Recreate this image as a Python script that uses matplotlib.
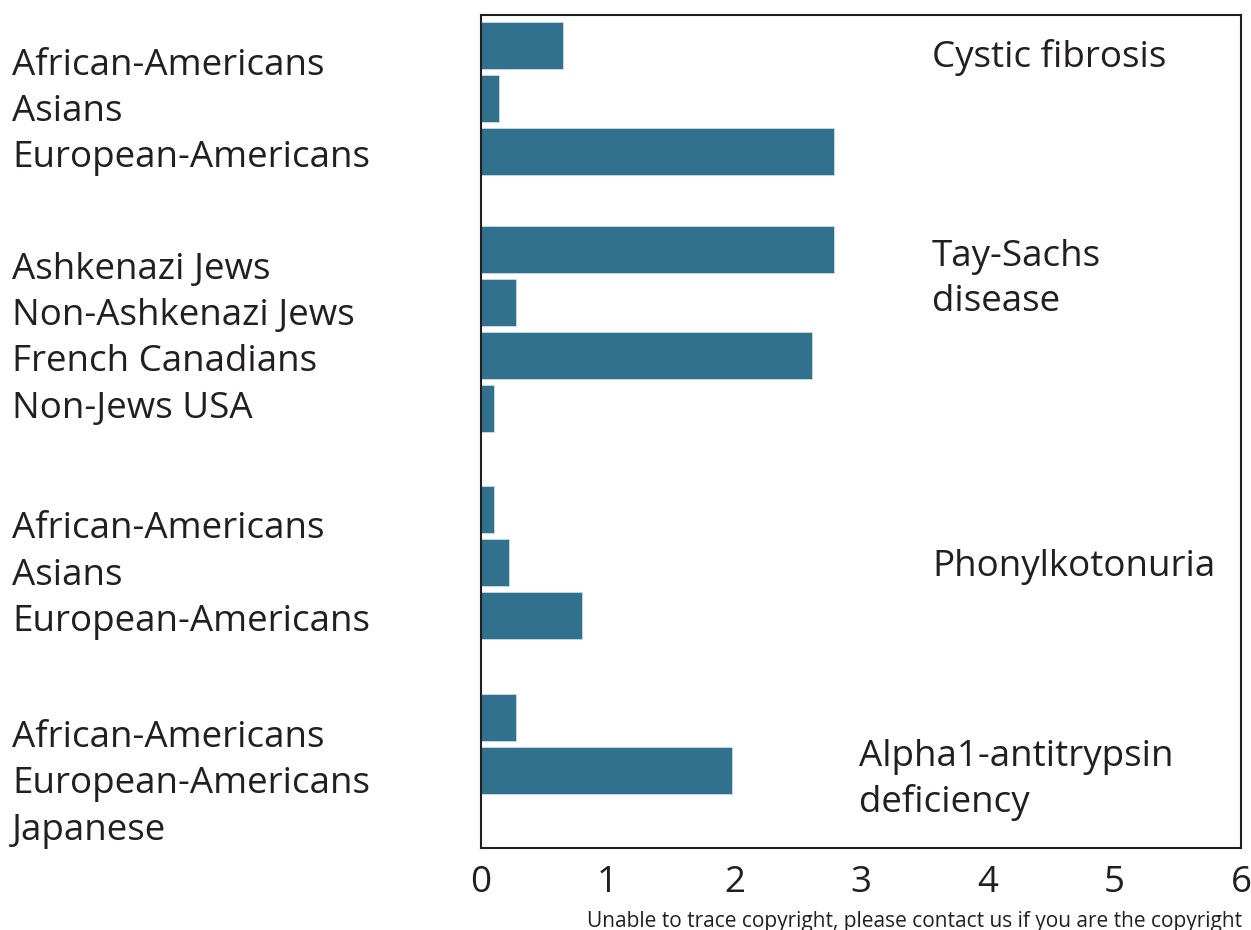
import matplotlib.pyplot as plt
import matplotlib.transforms as mtransforms
import numpy as np

plt.rcParams['font.family'] = ['Open Sans', 'DejaVu Sans']

# disease groups, populations and carrier frequencies (%)
diseases = ['Cystic fibrosis', 'Tay-Sachs\ndisease', 'Phonylkotonuria',
            'Alpha1-antitrypsin\ndeficiency']
populations = [
    ['African-Americans', 'Asians', 'European-Americans'],
    ['Ashkenazi Jews', 'Non-Ashkenazi Jews', 'French Canadians', 'Non-Jews USA'],
    ['African-Americans', 'Asians', 'European-Americans'],
    ['African-Americans', 'European-Americans', 'Japanese'],
]
values = [
    [0.65, 0.14, 2.79],
    [2.79, 0.28, 2.61, 0.10],
    [0.10, 0.22, 0.80],
    [0.28, 1.98, 0.0],
]
xticks = [0, 1, 2, 3, 4, 5, 6]

bar_color = '#31718d'
text_color = '#231f20'

# layout: where each group starts on the y axis
group_start = [0, 3.85, 8.75, 12.68]
disease_y = [0.22, 4.42, 9.84, 13.86]
disease_x = [0.745, 0.745, 0.745, 0.687]

fig = plt.figure(figsize=(12.51, 9.30), dpi=100)
ax = fig.add_axes([0.3845, 0.088, 0.6075, 0.896])
trans = mtransforms.blended_transform_factory(fig.transFigure, ax.transData)

for g in range(len(values)):
    ys = group_start[g] + np.arange(len(values[g]))
    ax.barh(ys, values[g], height=0.89, color=bar_color,
            edgecolor='#c9dbe3', linewidth=0.6)
    # population names sit in a column left of the frame
    for i, name in enumerate(populations[g]):
        ax.text(0.0096, group_start[g] + 0.38 + 0.875 * i, name, transform=trans,
                fontsize=26.5, color=text_color, va='center', ha='left')
    ax.text(disease_x[g], disease_y[g], diseases[g], transform=trans,
            fontsize=26.5, color=text_color, va='center', ha='left', linespacing=1.32)

ax.set_xlim(0, 6)
ax.set_ylim(15.14, -0.575)
ax.set_xticks(xticks)
ax.set_xticklabels([str(t) for t in xticks], fontsize=26.5, color=text_color)
ax.set_yticks([])
ax.tick_params(axis='x', length=0, pad=12)
for s in ax.spines.values():
    s.set_linewidth(1.5)
    s.set_color(text_color)

fig.text(0.469, 0.009, 'Unable to trace copyright, please contact us if you are the copyright',
         fontsize=15, color=text_color, va='center', ha='left')

fig.savefig('out.png', dpi=100)
